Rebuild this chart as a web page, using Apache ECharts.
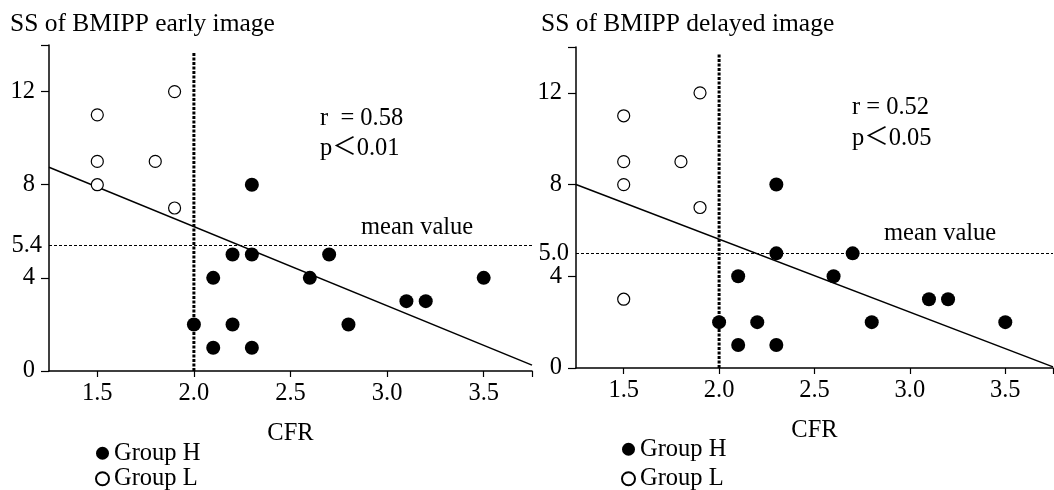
<!DOCTYPE html>
<html>
<head>
<meta charset="utf-8">
<script src="https://cdn.jsdelivr.net/npm/echarts@6/dist/echarts.min.js"></script>
<style>
html, body { margin: 0; padding: 0; background: #fff; }
#chart { width: 1054px; height: 490px; }
</style>
</head>
<body>
<div id="chart"></div>
<script>
// SS of BMIPP (early / delayed) against CFR
const earlyGroupH = [[2.3, 8], [2.2, 5], [2.3, 5], [2.7, 5], [2.1, 4], [2.6, 4], [3.5, 4], [3.1, 3], [3.2, 3], [2.0, 2], [2.2, 2], [2.8, 2], [2.1, 1], [2.3, 1]];
const earlyGroupL = [[1.5, 11], [1.5, 9], [1.5, 8], [1.8, 9], [1.9, 12], [1.9, 7]];
const delayedGroupH = [[2.3, 8], [2.3, 5], [2.7, 5], [2.1, 4], [2.6, 4], [3.1, 3], [3.2, 3], [2.0, 2], [2.2, 2], [2.8, 2], [3.5, 2], [2.1, 1], [2.3, 1]];
const delayedGroupL = [[1.5, 11], [1.5, 9], [1.5, 8], [1.8, 9], [1.9, 12], [1.9, 7], [1.5, 3]];
const earlyFit = [[1.25, 8.75], [3.75, 0.25]];
const delayedFit = [[1.25, 8.0], [3.75, 0.05]];
const cfrCutoff = [[2.0, 0], [2.0, 13.7]];
const earlyMean = 5.4;
const delayedMean = 5.0;
const xTickLabels = [1.5, 2.0, 2.5, 3.0, 3.5];
const xTickMarks = [1.5, 2.0, 2.5, 3.0, 3.5, 3.75];
const yTickLabels = [0, 4, 8, 12];
const yTickMarks = [0, 4, 8, 12, 14];

const FONT = "'Liberation Serif', 'Noto Sans CJK JP', serif";
const txt = { fontFamily: FONT, fontSize: 24.5, color: '#000', fontWeight: 'normal' };
const titleTxt = { ...txt, fontSize: 25.5 };

function xAxisFor(idx) {
  return {
    gridIndex: idx, type: 'value', min: 1.25, max: 3.75,
    name: 'CFR', nameLocation: 'middle', nameGap: 50,
    nameTextStyle: txt,
    axisLine: { lineStyle: { color: '#000', width: 1.5 } },
    axisTick: { show: true, length: 6, lineStyle: { color: '#000', width: 1.2 }, customValues: xTickMarks },
    axisLabel: { ...txt, margin: 10, customValues: xTickLabels, formatter: v => v.toFixed(1) },
    splitLine: { show: false }
  };
}

function yAxisFor(idx, mean) {
  return {
    gridIndex: idx, type: 'value', min: 0, max: 14,
    axisLine: { show: true, lineStyle: { color: '#000', width: 1.5 } },
    axisTick: { show: true, length: 8, lineStyle: { color: '#000', width: 1.2 }, customValues: yTickMarks },
    axisLabel: {
      ...txt, margin: 7,
      customValues: yTickLabels.concat([mean]),
      formatter: v => (v === mean ? '{m|' + v.toFixed(1) + '}' : '{t|' + v + '}'),
      rich: {
        t: { ...txt, padding: [0, 7, 0, 0] },
        m: { ...txt }
      }
    },
    splitLine: { show: false }
  };
}

function seriesFor(idx, groupH, groupL, fit, mean) {
  return [
    {
      name: 'Group H', type: 'scatter', xAxisIndex: idx, yAxisIndex: idx,
      symbolSize: 14, itemStyle: { color: '#000', opacity: 1 }, data: groupH, z: 5
    },
    {
      name: 'Group L', type: 'scatter', xAxisIndex: idx, yAxisIndex: idx,
      symbolSize: 12, itemStyle: { color: '#fff', borderColor: '#000', borderWidth: 1.2, opacity: 1 }, data: groupL, z: 5
    },
    {
      type: 'line', xAxisIndex: idx, yAxisIndex: idx, data: fit, showSymbol: false,
      lineStyle: { color: '#000', width: 1.5 }, silent: true, z: 3,
      markLine: {
        silent: true, symbol: 'none', label: { show: false },
        lineStyle: { color: '#000', width: 1, type: [3, 2] },
        data: [{ yAxis: mean }]
      }
    },
    {
      type: 'line', xAxisIndex: idx, yAxisIndex: idx, data: cfrCutoff, showSymbol: false,
      lineStyle: { color: '#000', width: 3, type: [3, 1.5] }, silent: true, z: 2
    }
  ];
}

const chart = echarts.init(document.getElementById('chart'));
chart.setOption({
  animation: false,
  backgroundColor: '#fff',
  title: [
    { text: 'SS of BMIPP early image', left: 5, top: 7, textStyle: titleTxt },
    { text: 'SS of BMIPP delayed image', left: 536, top: 7, textStyle: titleTxt },
    { text: 'r  = 0.58\np＜0.01', left: 315, top: 99, textStyle: { ...txt, lineHeight: 30 } },
    { text: 'r = 0.52\np＜0.05', left: 847, top: 87, textStyle: { ...txt, lineHeight: 31 } },
    { text: 'mean value', left: 356, top: 210, textStyle: txt },
    { text: 'mean value', left: 879, top: 216, textStyle: txt }
  ],
  legend: [
    {
      orient: 'vertical', left: 90, top: 436, height: 80, itemGap: 1, itemWidth: 13, itemHeight: 13,
      textStyle: txt, data: ['Group H', 'Group L'], selectedMode: false
    },
    {
      orient: 'vertical', left: 616, top: 432, height: 80, itemGap: 5, itemWidth: 13, itemHeight: 13,
      textStyle: txt, data: ['Group H', 'Group L'], selectedMode: false
    }
  ],
  grid: [
    { left: 49, top: 45, width: 483, height: 326 },
    { left: 576, top: 47, width: 477, height: 321 }
  ],
  xAxis: [xAxisFor(0), xAxisFor(1)],
  yAxis: [yAxisFor(0, earlyMean), yAxisFor(1, delayedMean)],
  series: [].concat(
    seriesFor(0, earlyGroupH, earlyGroupL, earlyFit, earlyMean),
    seriesFor(1, delayedGroupH, delayedGroupL, delayedFit, delayedMean)
  )
});
</script>
</body>
</html>
